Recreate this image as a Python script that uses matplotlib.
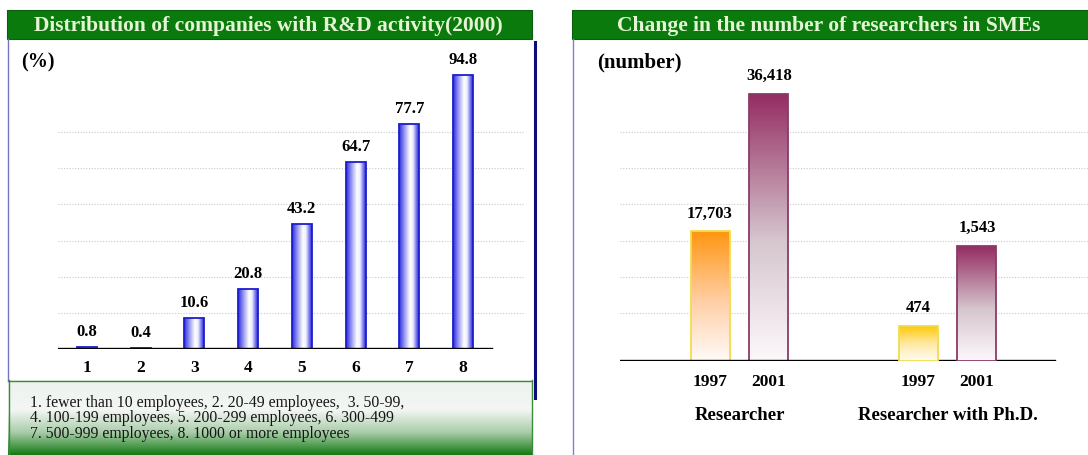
import numpy as np
import matplotlib
matplotlib.use("Agg")
import matplotlib.pyplot as plt
from matplotlib.colors import LinearSegmentedColormap
from matplotlib.patches import Rectangle
from matplotlib.transforms import blended_transform_factory

# ---- data -------------------------------------------------------------
size_classes = ["1", "2", "3", "4", "5", "6", "7", "8"]
rd_share = [0.8, 0.4, 10.6, 20.8, 43.2, 64.7, 77.7, 94.8]
size_notes = [
    "1. fewer than 10 employees, 2. 20-49 employees,  3. 50-99,",
    "4. 100-199 employees, 5. 200-299 employees, 6. 300-499",
    "7. 500-999 employees, 8. 1000 or more employees",
]
years = ["1997", "2001"]
groups = ["Researcher", "Researcher with Ph.D."]
researchers = [17703, 36418]
researchers_phd = [474, 1543]

# ---- figure / helpers --------------------------------------------------
W, H = 1088, 455
plt.rcParams["font.family"] = ["Liberation Serif", "DejaVu Serif"]
fig = plt.figure(figsize=(W / 100, H / 100), dpi=100)


def px_axes(x0, y0, x1, y1):
    return fig.add_axes([x0 / W, 1 - y1 / H, (x1 - x0) / W, (y1 - y0) / H])


def fill_gradient(ax, bar, cmap, vertical=True):
    x0, w, h = bar.get_x(), bar.get_width(), bar.get_height()
    if vertical:
        grad = np.linspace(0, 1, 256).reshape(-1, 1)
    else:
        grad = np.linspace(0, 1, 256).reshape(1, -1)
    im = ax.imshow(grad, cmap=cmap, origin="lower", aspect="auto",
                   extent=(x0, x0 + w, 0, h), interpolation="bilinear",
                   zorder=2)
    im.set_clip_path(bar)


canvas = px_axes(0, 0, W, H)
canvas.axis("off")

# panel frames
title_green = "#0b7a0d"
title_text = "#e4f4d4"
canvas.add_patch(Rectangle((7, 10), 525, 29, fc=title_green, ec="#0b5e0e", lw=0.8))
canvas.add_patch(Rectangle((572, 10), 520, 29, fc=title_green, ec="#0b5e0e", lw=0.8))
canvas.plot([8, 8], [39, 380], color="#7474c4", lw=1.0)
canvas.plot([572.5, 572.5], [39, 455], color="#8080cc", lw=1.0)

# note box with white-to-green fade
note_cmap = LinearSegmentedColormap.from_list(
    "note", [(0, "#eef3ee"), (0.4, "#f3f6f3"), (0.7, "#a8cca8"), (1, "#137a13")])
fade = np.linspace(0, 1, 256).reshape(-1, 1)
canvas.imshow(fade, cmap=note_cmap, aspect="auto", origin="upper",
              extent=(8, 532, 455, 380), zorder=1)
canvas.plot([8, 532], [380.5, 380.5], color="#3a8a3a", lw=1.0, zorder=2)
canvas.plot([8.5, 8.5], [380, 455], color="#3a8a3a", lw=1.0, zorder=2)
canvas.plot([531.5, 531.5], [380, 455], color="#3a8a3a", lw=1.0, zorder=2)
canvas.plot([534.5, 534.5], [42, 398], color="#0c0c7c", lw=2.2, zorder=3)

canvas.set_xlim(0, W)
canvas.set_ylim(H, 0)

canvas.text(268, 26, "Distribution of companies with R&D activity(2000)",
            ha="center", va="center", color=title_text, fontsize=15.5,
            fontweight="bold")
canvas.text(829, 26, "Change in the number of researchers in SMEs",
            ha="center", va="center", color=title_text, fontsize=15.5,
            fontweight="bold")
canvas.text(21, 62, "(%)", ha="left", va="center", fontsize=14.5, fontweight="bold")
canvas.text(597, 62, "(number)", ha="left", va="center", fontsize=15,
            fontweight="bold")
for i, line in enumerate(size_notes):
    canvas.text(30, 403 + i * 15.5, line, ha="left", va="center",
                fontsize=11.3, color="#151515")

# ---- left chart: share of firms with R&D -------------------------------
ax1 = px_axes(58, 40, 525, 349)
ax1.patch.set_visible(False)
blue_cmap = LinearSegmentedColormap.from_list(
    "cyl", [(0, "#2828d8"), (0.2, "#7c7cf0"), (0.55, "#ffffff"),
            (0.7, "#eeeeff"), (0.9, "#6464ec"), (1, "#2222d0")])
x1 = np.arange(len(size_classes))
bars1 = ax1.bar(x1, rd_share, width=0.372, fc="none", ec="#1e1ecc",
                lw=1.3, zorder=3)
for b in bars1:
    fill_gradient(ax1, b, blue_cmap, vertical=False)
for b, v in zip(bars1, rd_share):
    ax1.annotate(f"{v}", (b.get_x() + b.get_width() / 2, v),
                 xytext=(0, 5), textcoords="offset points", ha="center",
                 va="bottom", fontsize=12, fontweight="bold")
ax1.set_xlim(-0.54, 8.154)
ax1.set_ylim(0, 106.8)
ax1.set_yticks(np.arange(1, 7) * 12.5)
ax1.yaxis.grid(True, linestyle=(0, (1, 1.5)), color="#c8c8c8", lw=0.8)
ax1.set_axisbelow(True)
ax1.tick_params(axis="y", length=0, labelleft=False)
ax1.set_xticks(x1, size_classes, fontsize=12.5, fontweight="bold")
ax1.tick_params(axis="x", length=0, pad=8)
for s in ax1.spines.values():
    s.set_visible(False)
ax1.axhline(0, xmin=0, xmax=0.929, color="black", lw=1.7, zorder=4)

# ---- right chart: researchers in SMEs ----------------------------------
ax2 = px_axes(620, 40, 1088, 361)
ax2.patch.set_visible(False)
ax3 = ax2.twinx()

off = 0.1418
bw = 0.1875
cm_orange = LinearSegmentedColormap.from_list(
    "o", [(0, "#fffbf8"), (0.45, "#ffd0a8"), (1, "#ff9610")])
cm_gold = LinearSegmentedColormap.from_list(
    "g", [(0, "#fffcf4"), (0.5, "#ffe8a0"), (1, "#ffc800")])
cm_plum = LinearSegmentedColormap.from_list(
    "p", [(0, "#fdf8fb"), (0.45, "#d6c6ce"), (1, "#942c62")])
edge_1997 = "#f2dc4c"
edge_2001 = "#8a3a68"

pos = np.array([-off, off])
b_r = ax2.bar(0 + pos, researchers, width=bw, fc="none",
              ec=[edge_1997, edge_2001], lw=1.3, zorder=3)
b_p = ax3.bar(1 + pos, researchers_phd, width=bw, fc="none",
              ec=[edge_1997, edge_2001], lw=1.3, zorder=3)
fill_gradient(ax2, b_r[0], cm_orange)
fill_gradient(ax2, b_r[1], cm_plum)
fill_gradient(ax3, b_p[0], cm_gold)
fill_gradient(ax3, b_p[1], cm_plum)
for ax, bars, vals in ((ax2, b_r, researchers), (ax3, b_p, researchers_phd)):
    for b, v in zip(bars, vals):
        ax.annotate(f"{v:,}", (b.get_x() + b.get_width() / 2, v),
                    xytext=(0, 7), textcoords="offset points", ha="center",
                    va="bottom", fontsize=12, fontweight="bold")

ax2.set_xlim(-0.5745, 1.6755)
ymax_r = 43783
ymax_p = 4307
ax2.set_ylim(0, ymax_r)
ax3.set_ylim(0, ymax_p)
grid_frac = 0.1495 + 0.1128 * np.arange(6)
ax2.set_yticks(ymax_r * grid_frac)
ax2.yaxis.grid(True, linestyle=(0, (1, 1.5)), color="#c8c8c8", lw=0.8)
ax2.set_axisbelow(True)
ax2.tick_params(axis="y", length=0, labelleft=False)
ax3.set_yticks([])
ax2.set_xticks(np.concatenate([0 + pos, 1 + pos]), years * 2,
               fontsize=12.5, fontweight="bold")
ax2.tick_params(axis="x", length=0, pad=9)
for a in (ax2, ax3):
    for s in a.spines.values():
        s.set_visible(False)
ax2.axhline(0, xmin=0, xmax=0.929, color="black", lw=1.7, zorder=4)

glabel = blended_transform_factory(ax2.transData, canvas.transData)
for g, name in enumerate(groups):
    ax2.text(g, 415, name, transform=glabel, ha="center", va="center",
             fontsize=13.5, fontweight="bold")

fig.savefig("out.png", dpi=100)
